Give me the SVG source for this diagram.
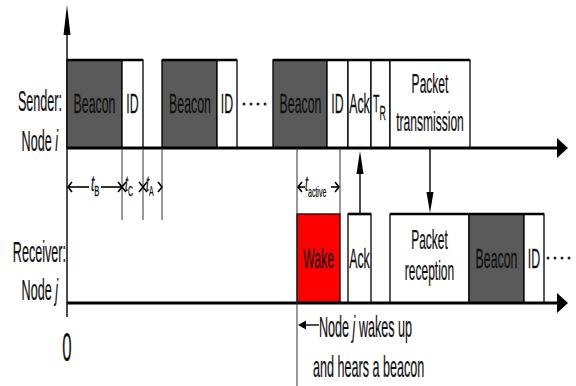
<svg xmlns="http://www.w3.org/2000/svg" width="576" height="386" viewBox="0 0 576 386">
  <style>
    text { font-family: "Liberation Sans", Arial, sans-serif; fill: #111; stroke: #111; stroke-width: 0.25; }
    .lbl { font-size: 28px; text-anchor: middle; }
    .pair { font-size: 27px; text-anchor: middle; }
    .side { font-size: 30px; text-anchor: end; }
    .note { font-size: 30px; }
    .dim { font-size: 22px; font-style: italic; }
    .sub { font-size: 14px; font-style: normal; }
    .box { stroke: #000; stroke-width: 1.3; }
    .beacon { fill: #5a5a5a; }
    .blank { fill: #fff; }
    .wake { fill: #ff0000; }
    .top { stroke: #000; stroke-width: 2.6; }
    .axis { stroke: #000; stroke-width: 3; fill: none; }
    .thin { stroke: #333; stroke-width: 1; fill: none; }
    .conn { stroke: #000; stroke-width: 1.4; fill: none; }
    .chev { stroke: #000; stroke-width: 1.6; fill: none; }
    .dot { fill: #222; }
  </style>

  <!-- time axis (vertical) -->
  <g id="time-axis">
    <line x1="67" y1="30" x2="67" y2="317" class="conn" stroke-width="1.5"/>
    <polygon points="67,5 70.5,35 63.5,35" fill="#000"/>
    <text transform="translate(67,361) scale(0.42,1)" font-size="40" text-anchor="middle">0</text>
  </g>

  <!-- sender row -->
  <g id="sender-label">
    <text class="side" transform="translate(62,111) scale(0.42,1)">Sender:</text>
    <text class="side" transform="translate(58,151) scale(0.42,1)">Node <tspan font-style="italic">i</tspan></text>
  </g>

  <g id="sender-frame-1">
    <rect x="67" y="60" width="55" height="88" class="box beacon"/>
    <rect x="122" y="60" width="21" height="88" class="box blank"/>
    <line x1="67" y1="60" x2="143" y2="60" class="top"/>
    <text class="lbl" transform="translate(94.5,113) scale(0.44,1)">Beacon</text>
    <text class="lbl" transform="translate(132.5,113) scale(0.44,1)">ID</text>
  </g>

  <g id="sender-frame-2">
    <rect x="162" y="60" width="55" height="88" class="box beacon"/>
    <rect x="217" y="60" width="20" height="88" class="box blank"/>
    <line x1="162" y1="60" x2="237" y2="60" class="top"/>
    <text class="lbl" transform="translate(190,113) scale(0.44,1)">Beacon</text>
    <text class="lbl" transform="translate(227,113) scale(0.44,1)">ID</text>
    <circle cx="244" cy="104" r="1.5" class="dot"/>
    <circle cx="251" cy="104" r="1.5" class="dot"/>
    <circle cx="258" cy="104" r="1.5" class="dot"/>
    <circle cx="265" cy="104" r="1.5" class="dot"/>
  </g>

  <g id="sender-frame-3">
    <rect x="273" y="60" width="54" height="88" class="box beacon"/>
    <rect x="327" y="60" width="21" height="88" class="box blank"/>
    <rect x="348" y="60" width="23" height="88" class="box blank"/>
    <rect x="371" y="60" width="19" height="88" class="box blank"/>
    <rect x="390" y="60" width="80" height="88" class="box blank"/>
    <line x1="273" y1="60" x2="470" y2="60" class="top"/>
    <text class="lbl" transform="translate(300.5,113) scale(0.44,1)">Beacon</text>
    <text class="lbl" transform="translate(337.5,113) scale(0.44,1)">ID</text>
    <text class="lbl" transform="translate(359.5,113) scale(0.44,1)">Ack</text>
    <text transform="translate(373,112) scale(0.44,1)" font-size="24">T<tspan font-size="20" dy="8">R</tspan></text>
    <text class="lbl" transform="translate(430,93) scale(0.43,1)">Packet</text>
    <text class="lbl" transform="translate(430,131) scale(0.43,1)">transmission</text>
  </g>

  <!-- receiver row -->
  <g id="receiver-label">
    <text class="side" transform="translate(66,262) scale(0.42,1)">Receiver:</text>
    <text class="side" transform="translate(58,300) scale(0.42,1)">Node <tspan font-style="italic">j</tspan></text>
  </g>

  <g id="receiver-wake">
    <rect x="297" y="214" width="43" height="89" class="box wake"/>
    <text class="lbl" transform="translate(318.5,268) scale(0.44,1)">Wake</text>
  </g>

  <g id="receiver-ack">
    <rect x="348" y="214" width="23" height="89" class="box blank"/>
    <line x1="348" y1="214" x2="371" y2="214" class="top" stroke-width="1.8"/>
    <text class="lbl" transform="translate(359.5,268) scale(0.44,1)">Ack</text>
  </g>

  <g id="receiver-frame">
    <rect x="390" y="214" width="79" height="89" class="box blank"/>
    <rect x="469" y="214" width="55" height="89" class="box beacon"/>
    <rect x="524" y="214" width="20" height="89" class="box blank"/>
    <line x1="390" y1="214" x2="544" y2="214" class="top"/>
    <text class="pair" transform="translate(429.5,249) scale(0.445,1)">Packet</text>
    <text class="pair" transform="translate(429.5,280) scale(0.445,1)">reception</text>
    <text class="lbl" transform="translate(496.5,268) scale(0.44,1)">Beacon</text>
    <text class="lbl" transform="translate(534,268) scale(0.44,1)">ID</text>
    <circle cx="548" cy="258" r="1.5" class="dot"/>
    <circle cx="555" cy="258" r="1.5" class="dot"/>
    <circle cx="562" cy="258" r="1.5" class="dot"/>
    <circle cx="569" cy="258" r="1.5" class="dot"/>
  </g>

  <!-- time lines, guides and message arrows -->
  <g id="connectors">
    <line x1="67" y1="148" x2="559" y2="148" class="axis"/>
    <polygon points="568,148 557,138 557,158" fill="#000"/>
    <line x1="67" y1="303" x2="559" y2="303" class="axis"/>
    <polygon points="568,303 557,293 557,313" fill="#000"/>

    <line x1="122" y1="148" x2="122" y2="220" class="thin"/>
    <line x1="143" y1="148" x2="143" y2="220" class="thin"/>
    <line x1="162" y1="148" x2="162" y2="220" class="thin"/>
    <line x1="297" y1="148" x2="297" y2="386" class="thin"/>
    <line x1="340" y1="148" x2="340" y2="214" class="thin"/>

    <!-- ack from receiver to sender -->
    <line x1="360" y1="214" x2="360" y2="170" class="conn"/>
    <polygon points="360,151 363.5,174 356.5,174" fill="#000"/>
    <!-- packet from sender to receiver -->
    <line x1="430" y1="148" x2="430" y2="196" class="conn"/>
    <polygon points="430,213 426.5,192 433.5,192" fill="#000"/>

    <!-- wake-up note pointer -->
    <line x1="304" y1="325" x2="319" y2="325" class="conn" stroke-width="1.8"/>
    <polygon points="298,325 306,320.5 306,329.5" fill="#000"/>
  </g>

  <!-- interval markers -->
  <g id="intervals">
    <line x1="68" y1="187" x2="89" y2="187" class="chev"/>
    <line x1="101" y1="187" x2="121" y2="187" class="chev"/>
    <polyline points="72,182 68,187 72,192" class="chev"/>
    <polyline points="118,182 122,187 118,192" class="chev"/>
    <text class="dim" transform="translate(91,191) scale(0.55,1)">t<tspan class="sub" dy="5">B</tspan></text>

    <polyline points="126,182 122,187 126,192" class="chev"/>
    <polyline points="139,182 143,187 139,192" class="chev"/>
    <text class="dim" transform="translate(125,191) scale(0.5,1)">t<tspan class="sub" dy="5">C</tspan></text>

    <polyline points="147,182 143,187 147,192" class="chev"/>
    <polyline points="158,182 162,187 158,192" class="chev"/>
    <text class="dim" transform="translate(146,191) scale(0.5,1)">t<tspan class="sub" dy="5">A</tspan></text>

    <line x1="298" y1="187" x2="305" y2="187" class="chev"/>
    <polyline points="302,182 298,187 302,192" class="chev"/>
    <line x1="331" y1="187" x2="339" y2="187" class="chev"/>
    <polyline points="335,182 339,187 335,192" class="chev"/>
    <text class="dim" transform="translate(305,191) scale(0.5,1)">t<tspan class="sub" dy="6">active</tspan></text>
  </g>

  <g id="wake-note">
    <text class="note" transform="translate(319,337) scale(0.42,1)">Node <tspan font-style="italic">j</tspan> wakes up</text>
    <text class="note" transform="translate(313,377) scale(0.42,1)">and hears a beacon</text>
  </g>
</svg>
